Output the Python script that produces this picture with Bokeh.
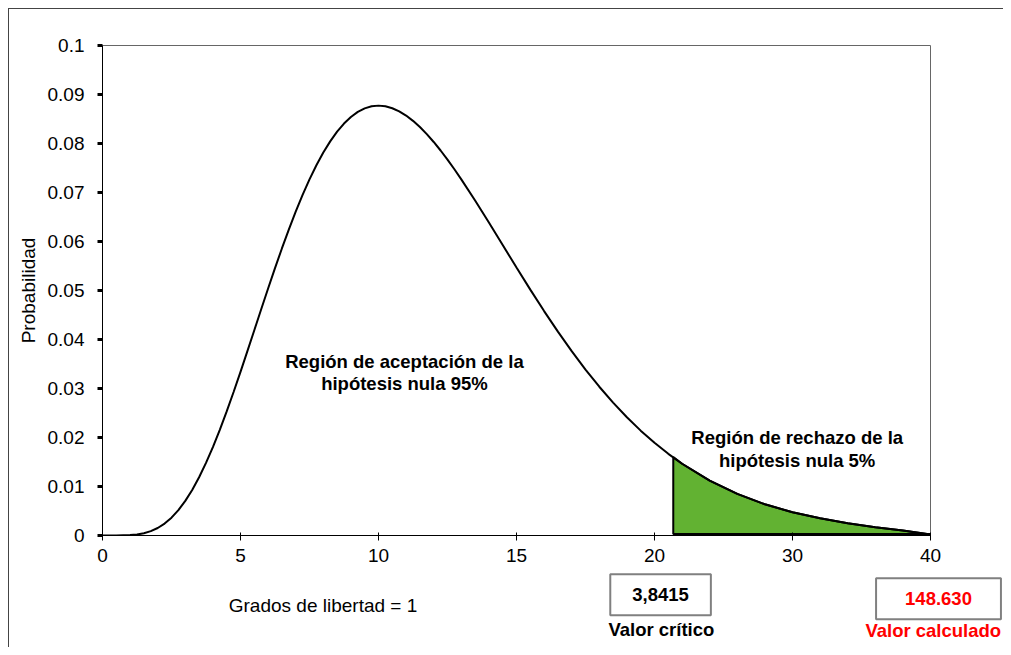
from bokeh.plotting import figure
from bokeh.layouts import column
from bokeh.models import Range1d, FixedTicker, Label, Plot
from bokeh.embed import file_html
from bokeh.resources import INLINE

# ---- data ----
x_vals = [0, 0.5, 1, 1.25, 1.5, 1.75, 2, 2.25, 2.5, 2.75, 3, 3.25, 3.5, 3.75, 4, 4.25, 4.5,
          4.75, 5, 5.25, 5.5, 5.75, 6, 6.25, 6.5, 6.75, 7, 7.25, 7.5, 7.75, 8, 8.25, 8.5,
          8.75, 9, 9.25, 9.5, 9.75, 10, 10.25, 10.5, 10.75, 11, 11.25, 11.5, 11.75, 12,
          12.25, 12.5, 12.75, 13, 13.5, 14, 14.5, 15, 15.5, 16, 16.5, 17, 17.5, 18, 18.5,
          19, 19.5, 20, 20.5, 21, 22, 23, 24, 25, 26, 27, 28, 29, 30]
prob_vals = [0, 0.000003, 0.000079, 0.000213, 0.000467, 0.000891, 0.001533, 0.002438,
             0.003643, 0.005178, 0.00706, 0.009297, 0.01188, 0.014808, 0.01805, 0.021564,
             0.02532, 0.029285, 0.0334, 0.03762, 0.04189, 0.046172, 0.05041, 0.054559,
             0.05858, 0.062432, 0.06609, 0.069504, 0.07267, 0.075553, 0.07815, 0.080432,
             0.08241, 0.084069, 0.08541, 0.086444, 0.08717, 0.087595, 0.08773, 0.087599,
             0.0872, 0.086566, 0.0857, 0.084625, 0.08336, 0.081913, 0.08031, 0.078571,
             0.07671, 0.074741, 0.07268, 0.06836, 0.06386, 0.05927, 0.05469, 0.05018,
             0.0458, 0.0416, 0.03762, 0.03387, 0.03036, 0.02712, 0.02413, 0.0214, 0.01892,
             0.01667, 0.01464, 0.01121, 0.00849, 0.00637, 0.00474, 0.0035, 0.0025,
             0.0017, 0.001, 0.0002]
crit_x = 20.68
crit_y = 0.0160
tail_base = 0.0003

x_ticks = [0, 5, 10, 15, 20, 25, 30]
x_tick_labels = ["0", "5", "10", "15", "20", "30", "40"]
y_ticks = [0, 0.01, 0.02, 0.03, 0.04, 0.05, 0.06, 0.07, 0.08, 0.09, 0.1]
y_tick_labels = ["0", "0.01", "0.02", "0.03", "0.04", "0.05", "0.06", "0.07", "0.08", "0.09", "0.1"]

FONT = "Liberation Sans"

W = 1003
H_TOP, H_BOT = 572, 75
ML, MR, MT, MB = 102, 73, 45, 37
X0, X1 = 0, 30
Y0, Y1 = 0, 0.1

p = figure(width=W, height=H_TOP, x_range=Range1d(X0, X1), y_range=Range1d(Y0, Y1),
           output_backend="svg", toolbar_location=None,
           min_border_left=ML, min_border_right=MR, min_border_top=MT, min_border_bottom=MB)
p.xgrid.visible = False
p.ygrid.visible = False
p.outline_line_color = "#666666"
p.outline_line_width = 1
p.background_fill_color = "white"
p.border_fill_color = None

# rejection region
tail_x = [crit_x, crit_x] + [x for x in x_vals if x > crit_x] + [x_vals[-1]]
tail_y = [tail_base, crit_y] + [y for x, y in zip(x_vals, prob_vals) if x > crit_x] + [tail_base]
p.patch(tail_x, tail_y, fill_color="#62B232", line_color="black", line_width=2)

# curve
p.line(x_vals, prob_vals, line_color="black", line_width=2)

# axes
p.xaxis.ticker = FixedTicker(ticks=x_ticks)
p.xaxis.major_label_overrides = {t: l for t, l in zip(x_ticks, x_tick_labels)}
p.yaxis.ticker = FixedTicker(ticks=y_ticks)
p.yaxis.major_label_overrides = {t: l for t, l in zip(y_ticks, y_tick_labels)}
p.xaxis.minor_tick_line_color = None
p.yaxis.minor_tick_line_color = None

for ax in (p.xaxis, p.yaxis):
    ax.axis_line_color = "black"
    ax.axis_line_width = 1
    ax.major_tick_line_color = "black"
    ax.major_label_text_font = FONT
    ax.major_label_text_font_size = "19px"
    ax.major_label_text_color = "black"

p.xaxis.major_tick_in = 3
p.xaxis.major_tick_out = 5
p.xaxis.major_tick_line_width = 1
p.xaxis.major_label_standoff = 8

p.yaxis.major_tick_in = 0
p.yaxis.major_tick_out = 5
p.yaxis.major_tick_line_width = 3
p.yaxis.major_label_standoff = 13

p.yaxis.axis_label = "Probabilidad"
p.yaxis.axis_label_text_font = FONT
p.yaxis.axis_label_text_font_size = "19px"
p.yaxis.axis_label_text_font_style = "normal"
p.yaxis.axis_label_text_color = "black"
p.yaxis.axis_label_standoff = 6


def lab(fig, x, y, text, size="18.5px", style="bold", color="black", **kw):
    fig.add_layout(Label(x=x, y=y, text=text, text_font=FONT, text_font_size=size,
                         text_font_style=style, text_color=color, text_align="center",
                         text_baseline="middle", **kw))


lab(p, 10.94, 0.0355, "Región de aceptación de la")
lab(p, 10.94, 0.0310, "hipótesis nula 95%")
lab(p, 25.17, 0.0200, "Región de rechazo de la")
lab(p, 25.17, 0.0154, "hipótesis nula 5%")

# lower strip: same data units as the chart, continued below the x axis
px_per_x = (W - ML - MR) / (X1 - X0)
px_per_y = (H_TOP - MT - MB) / (Y1 - Y0)
q = figure(width=W, height=H_BOT,
           x_range=Range1d(X0 - ML / px_per_x, X1 + MR / px_per_x),
           y_range=Range1d(Y0 - (MB + H_BOT) / px_per_y, Y0 - MB / px_per_y),
           output_backend="svg", toolbar_location=None,
           x_axis_location=None, y_axis_location=None,
           min_border_left=0, min_border_right=0, min_border_top=0, min_border_bottom=0)
q.xgrid.visible = False
q.ygrid.visible = False
q.outline_line_color = None
q.background_fill_color = None
q.border_fill_color = None

if "frame_align" in Plot.properties():
    p.frame_align = False
    q.frame_align = False

lab(q, 7.99, -0.0143, "Grados de libertad = 1", size="19px", style="normal")
lab(q, 20.22, -0.0121, "3,8415", border_line_color="#808080", border_line_width=2,
    background_fill_color="white", padding=dict(left=22, right=22, top=14, bottom=14))
lab(q, 20.25, -0.0192, "Valor crítico")
lab(q, 30.29, -0.0129, "148.630", color="#FF0000", border_line_color="#808080",
    border_line_width=2, background_fill_color="white",
    padding=dict(left=29, right=29, top=14, bottom=14))
lab(q, 30.10, -0.0194, "Valor calculado", color="#FF0000")

layout = column(p, q, spacing=0,
                styles={"box-shadow": "inset 8px 8px 0 0 white, inset 9px 9px 0 0 #444444",
                        "background-color": "white"})

open("out.html", "w").write(file_html(layout, INLINE))
